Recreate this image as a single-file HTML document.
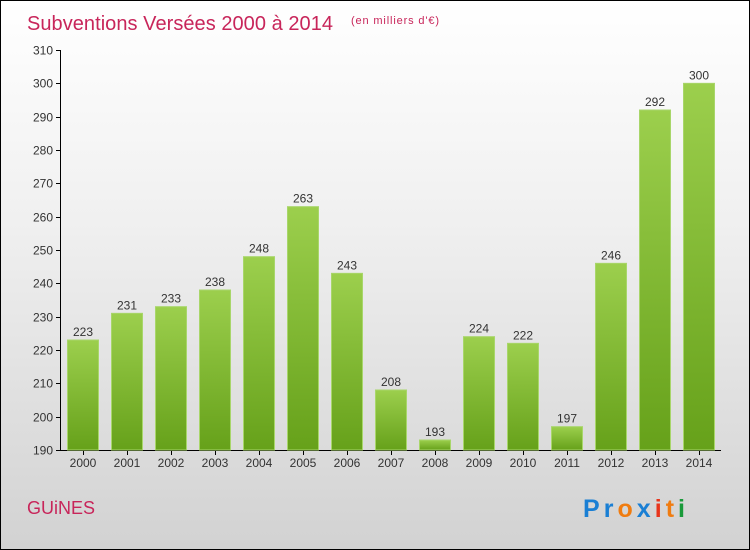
<!DOCTYPE html>
<html><head><meta charset="utf-8"><style>
body{margin:0}
#c{position:relative;width:748px;height:548px;border:1px solid #000;background:linear-gradient(#fff 0%,#f0f0f0 40%,#d2d2d2 100%);font-family:"Liberation Sans",sans-serif;overflow:hidden}
</style></head><body>
<div id="c">
<svg width="748" height="548" xmlns="http://www.w3.org/2000/svg" id="s">
<defs><linearGradient id="g" x1="0" y1="0" x2="0" y2="1"><stop offset="0" stop-color="#9ccf4d"/><stop offset="1" stop-color="#66a11a"/></linearGradient></defs>
<text x="26" y="29" font-size="20" fill="#c8255a" textLength="306">Subventions Versées 2000 à 2014</text>
<text x="350" y="23" font-size="11" fill="#c8255a" textLength="88">(en milliers d'€)</text>
<text x="26" y="513" font-size="18" fill="#c8255a">GUiNES</text>
<text x="582" y="516" font-size="25" font-weight="bold" textLength="102"><tspan fill="#1a7fd4">Pr</tspan><tspan fill="#f07c10">o</tspan><tspan fill="#1a7fd4">x</tspan><tspan fill="#e8351c">i</tspan><tspan fill="#f07c10">t</tspan><tspan fill="#1a9a3a">i</tspan></text>
<g id="ax"></g><g id="bars"></g>
</svg></div>
<script>
const years=["2000","2001","2002","2003","2004","2005","2006","2007","2008","2009","2010","2011","2012","2013","2014"];
const values=[223,231,233,238,248,263,243,208,193,224,222,197,246,292,300];
const ticks=[190,200,210,220,230,240,250,260,270,280,290,300,310];
const NS="http://www.w3.org/2000/svg";
const y=v=>449-(v-190)*(400/120);
const x=i=>66+i*44;
function mk(t,a,p){const e=document.createElementNS(NS,t);for(const k in a)e.setAttribute(k,a[k]);p.appendChild(e);return e;}
const ax=document.getElementById('ax'),bars=document.getElementById('bars');
let l=mk('line',{x1:59.5,y1:49,x2:59.5,y2:449,stroke:'#000'},ax);


l=mk('line',{x1:59,y1:449.5,x2:720,y2:449.5,stroke:'#000'},ax);


ticks.forEach(t=>{
 const yy=Math.round(y(t))+0.5;
 mk('line',{x1:55,y1:yy,x2:60,y2:yy,stroke:'#000'},ax);
 const tx=mk('text',{x:52,y:yy+4,'font-size':12,fill:'#333','text-anchor':'end'},ax);tx.textContent=t;
 
 
});
years.forEach((yr,i)=>{
 const v=values[i],top=y(v);
 const r=mk('rect',{x:x(i)+0.5,y:top,width:31,height:449-top,fill:'url(#g)',stroke:'#a8d66a','stroke-width':1},bars);
 
 
 const vt=mk('text',{x:x(i)+16,y:top-4,'font-size':12,fill:'#333','text-anchor':'middle'},bars);vt.textContent=v;
 
 
 const xt=mk('text',{x:x(i)+16,y:466,'font-size':12,fill:'#333','text-anchor':'middle'},bars);xt.textContent=yr;
 
 
 mk('line',{x1:x(i)+16.5,y1:450,x2:x(i)+16.5,y2:454,stroke:'#000'},ax);
});
</script>
</body></html>
